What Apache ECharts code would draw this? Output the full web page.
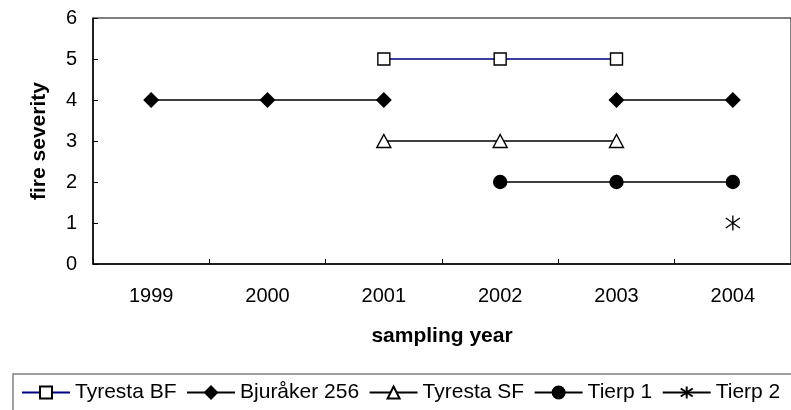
<!DOCTYPE html>
<html>
<head>
<meta charset="utf-8">
<script src="https://cdn.jsdelivr.net/npm/echarts@6/dist/echarts.min.js"></script>
<style>
html,body{margin:0;padding:0;background:#fff;}
#chart{width:791px;height:410px;}
</style>
</head>
<body>
<div id="chart"></div>
<script>
const years = ['1999', '2000', '2001', '2002', '2003', '2004'];
const tyrestaBF = ['-', '-', 5, 5, 5, '-'];
const bjuraker256 = [4, 4, 4, '-', 4, 4];
const tyrestaSF = ['-', '-', 3, 3, 3, '-'];
const tierp1 = ['-', '-', '-', 2, 2, 2];
const tierp2 = ['-', '-', '-', '-', '-', 1];
const yTicks = [0, 1, 2, 3, 4, 5, 6];

const FONT = '"Liberation Sans", Arial, sans-serif';
const asterisk = 'path://M0,-7.5L0,7.5M-7,-5L7,5M-7,5L7,-5';

const chart = echarts.init(document.getElementById('chart'), null, {renderer: 'canvas'});

function mk(name, data, symbol, size, fill, lineColor) {
  return {
    name: name,
    type: 'line',
    data: data,
    connectNulls: false,
    symbol: symbol,
    symbolSize: size,
    showAllSymbol: true,
    animation: false,
    lineStyle: {color: lineColor, width: 1.4},
    itemStyle: {color: fill, borderColor: '#000', borderWidth: 1.4, opacity: 1},
    emphasis: {disabled: true}
  };
}

chart.setOption({
  animation: false,
  textStyle: {fontFamily: FONT},
  grid: {
    left: 93, top: 18, width: 702, height: 246,
    show: true, borderColor: '#000', borderWidth: 1, backgroundColor: 'transparent'
  },
  legend: {
    left: 13, top: 374,
    width: 1200,
    padding: [8, 24, 8, 8],
    itemGap: 9.5,
    itemWidth: 48,
    itemHeight: 15,
    borderColor: '#808080',
    borderWidth: 1.5,
    borderRadius: 0,
    textStyle: {fontFamily: FONT, fontSize: 21, color: '#000'},
    data: ['Tyresta BF', 'Bjuråker 256', 'Tyresta SF', 'Tierp 1', 'Tierp 2']
  },
  xAxis: {
    type: 'category',
    data: years,
    boundaryGap: true,
    name: 'sampling year',
    nameLocation: 'middle',
    nameGap: 62,
    nameTextStyle: {fontFamily: FONT, fontSize: 21, fontWeight: 'bold', color: '#000'},
    axisLine: {lineStyle: {color: '#000', width: 1.5}},
    axisTick: {show: true, inside: true, length: 5, interval: 0, lineStyle: {color: '#000', width: 1}},
    axisLabel: {fontFamily: FONT, fontSize: 20, color: '#000', margin: 22, interval: 0},
    splitLine: {show: false}
  },
  yAxis: {
    type: 'value',
    min: yTicks[0],
    max: yTicks[yTicks.length - 1],
    interval: 1,
    name: 'fire severity',
    nameLocation: 'middle',
    nameGap: 43,
    nameTextStyle: {fontFamily: FONT, fontSize: 21, fontWeight: 'bold', color: '#000'},
    axisLine: {show: true, lineStyle: {color: '#000', width: 1.5}},
    axisTick: {show: true, inside: true, length: 5, lineStyle: {color: '#000', width: 1}},
    axisLabel: {fontFamily: FONT, fontSize: 20, color: '#000', margin: 16},
    splitLine: {show: false}
  },
  series: [
    mk('Tyresta BF', tyrestaBF, 'rect', 12, '#fff', '#000080'),
    mk('Bjuråker 256', bjuraker256, 'diamond', 14, '#000', '#000'),
    mk('Tyresta SF', tyrestaSF, 'triangle', [14, 13], '#fff', '#000'),
    mk('Tierp 1', tierp1, 'circle', 13, '#000', '#000'),
    mk('Tierp 2', tierp2, asterisk, [14, 15], 'none', '#000')
  ]
});
</script>
</body>
</html>
